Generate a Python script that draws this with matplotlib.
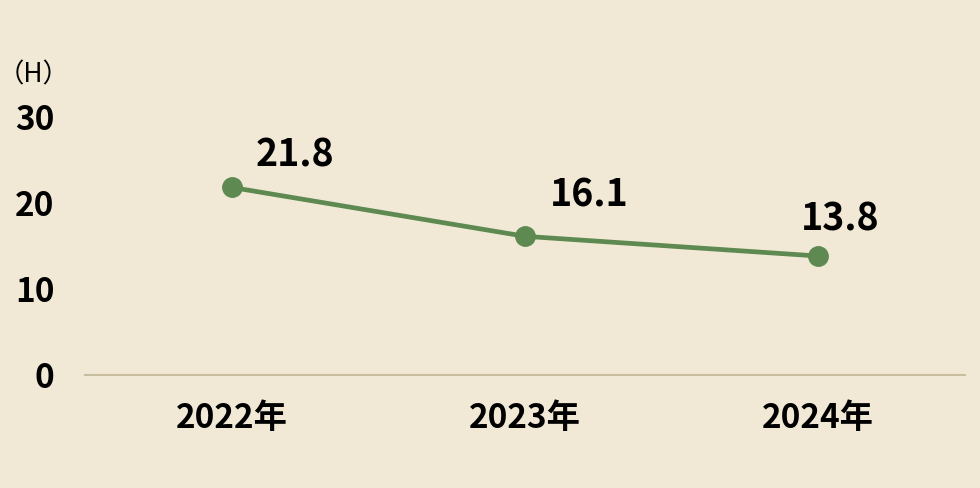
import matplotlib
matplotlib.use("Agg")
import matplotlib.pyplot as plt

categories = ["2022年", "2023年", "2024年"]
values = [21.8, 16.1, 13.8]
yticks = [0, 10, 20, 30]
unit_label = "（H）"

BG = "#F1E9D6"
LINE = "#5E8A52"
BASE = "#C9BD9F"

plt.rcParams['font.family'] = ['Noto Sans CJK JP', 'DejaVu Sans']

fig = plt.figure(figsize=(9.8, 4.88), dpi=100, facecolor=BG)
ax = fig.add_axes([85/980, 1-374.5/488, (965-85)/980, (374.5-117)/488])
ax.set_facecolor(BG)

x = list(range(len(categories)))
ax.plot(x, values, color=LINE, lw=3.4, marker='o', ms=14, mfc=LINE, mec=LINE, solid_capstyle='round', zorder=3)

ax.set_xlim(-0.5, len(categories)-0.5)
ax.set_ylim(0, 30)

# label offsets in pixels (dx right, dy up to baseline)
offsets = [(63, 21), (64, 30), (22, 26)]
for xi, v, (dx, dy) in zip(x, values, offsets):
    ax.annotate(f"{v:.1f}", (xi, v), xytext=(dx*0.72, dy*0.72), textcoords='offset points',
                ha='center', va='baseline', fontsize=27, fontweight='bold', color='black')

ax.set_yticks(yticks)
ax.set_yticklabels([str(t) for t in yticks], fontsize=24, fontweight='bold')
ax.set_xticks(x)
ax.set_xticklabels(categories, fontsize=24, fontweight='bold')
ax.tick_params(axis='both', length=0)
ax.tick_params(axis='y', pad=22)
ax.tick_params(axis='x', pad=20)

for s in ['top', 'right', 'left']:
    ax.spines[s].set_visible(False)
ax.spines['bottom'].set_color(BASE)
ax.spines['bottom'].set_linewidth(1.5)

fig.text(34/980, 1-75/488, unit_label, ha='center', va='center', fontsize=19, color='black')

fig.savefig("out.png", dpi=100, facecolor=BG)
